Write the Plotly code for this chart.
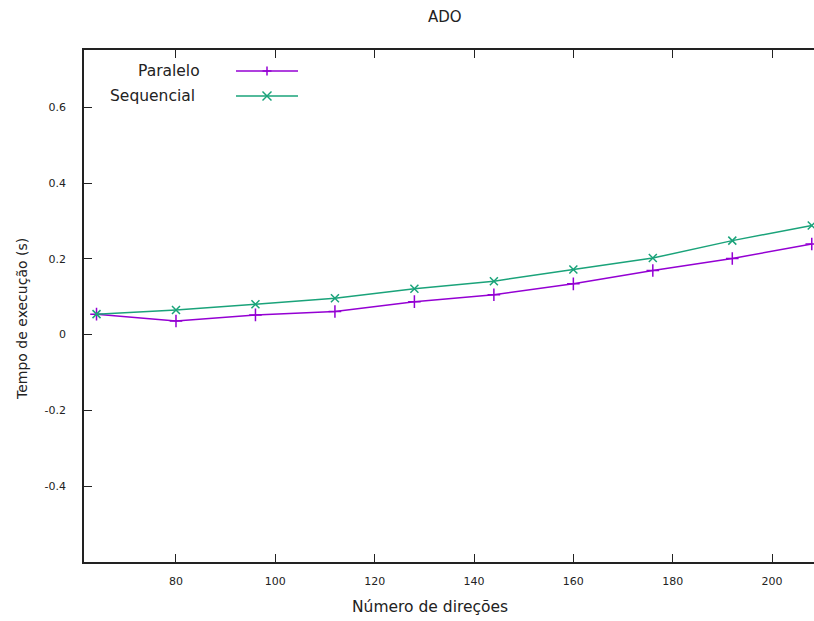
import plotly.graph_objects as go

# Number of directions and execution time (s) for each variant
direcoes = [64, 80, 96, 112, 128, 144, 160, 176, 192, 208]
tempo_paralelo = [0.054, 0.036, 0.052, 0.061, 0.087, 0.105, 0.134, 0.169, 0.201, 0.239]
tempo_sequencial = [0.054, 0.065, 0.080, 0.096, 0.121, 0.141, 0.172, 0.202, 0.248, 0.288]

x_ticks = [80, 100, 120, 140, 160, 180, 200]
y_ticks = [-0.4, -0.2, 0, 0.2, 0.4, 0.6]
y_tick_text = ["-0.4", "-0.2", "0", "0.2", "0.4", "0.6"]

PURPLE = "#9400d3"
GREEN = "#1aa37a"
INK = "#222222"
FONT = "DejaVu Sans"

W, H = 814, 621
L, R, T, B = 84, 0, 50, 59
PW, PH = W - L - R, H - T - B


def px(x):
    return (x - L) / PW


def py(y):
    return (H - B - y) / PH


fig = go.Figure()
fig.add_trace(go.Scatter(
    x=direcoes, y=tempo_paralelo, mode="lines+markers", name="Paralelo",
    line=dict(color=PURPLE, width=1.5),
    marker=dict(symbol="cross-thin", size=9, line=dict(color=PURPLE, width=1.5)),
    cliponaxis=False,
))
fig.add_trace(go.Scatter(
    x=direcoes, y=tempo_sequencial, mode="lines+markers", name="Sequencial",
    line=dict(color=GREEN, width=1.5),
    marker=dict(symbol="x-thin", size=8, line=dict(color=GREEN, width=1.5)),
    cliponaxis=False,
))

# Key drawn in the gnuplot style: right-aligned label, then line sample with point
shapes = []
annotations = []
key = [("Paralelo", 202, 71, PURPLE, "plus"), ("Sequencial", 197, 96, GREEN, "cross")]
for label, tx, ty, col, kind in key:
    annotations.append(dict(
        text=label, x=px(tx), y=py(ty), xref="paper", yref="paper",
        xanchor="right", yanchor="middle", showarrow=False,
        font=dict(family=FONT, size=15.5, color=INK),
    ))
    shapes.append(dict(type="line", xref="paper", yref="paper",
                       x0=px(236), x1=px(298), y0=py(ty), y1=py(ty),
                       line=dict(color=col, width=1.5)))
    cx, cy, s = 267, ty, 4.5
    if kind == "plus":
        segs = [((cx, cy - s), (cx, cy + s)), ((cx - s, cy), (cx + s, cy))]
    else:
        segs = [((cx - s, cy - s), (cx + s, cy + s)), ((cx - s, cy + s), (cx + s, cy - s))]
    for (x0, y0), (x1, y1) in segs:
        shapes.append(dict(type="line", xref="paper", yref="paper",
                           x0=px(x0), x1=px(x1), y0=py(y0), y1=py(y1),
                           line=dict(color=col, width=1.5)))

annotations.append(dict(
    text="Número de direções", x=px(430), y=py(607), xref="paper", yref="paper",
    xanchor="center", yanchor="middle", showarrow=False,
    font=dict(family=FONT, size=15.5, color=INK),
))
annotations.append(dict(
    text="Tempo de execução (s)", x=px(22), y=py(319), xref="paper", yref="paper",
    xanchor="center", yanchor="middle", showarrow=False, textangle=-90,
    font=dict(family=FONT, size=14, color=INK),
))
annotations.append(dict(
    text="ADO", x=px(445), y=py(17), xref="paper", yref="paper",
    xanchor="center", yanchor="middle", showarrow=False,
    font=dict(family=FONT, size=15, color=INK),
))

fig.update_layout(
    width=W, height=H,
    margin=dict(l=L, r=R, t=T, b=B),
    paper_bgcolor="white", plot_bgcolor="white",
    showlegend=False,
    shapes=shapes,
    annotations=annotations,
    font=dict(family=FONT, color=INK),
    xaxis=dict(
        range=[61.48, 208.45], tickvals=x_ticks, ticks="inside", ticklen=8,
        tickwidth=1.2, tickcolor=INK, showline=True, linecolor=INK, linewidth=1.5,
        mirror="ticks", showgrid=False, zeroline=False,
        tickfont=dict(family=FONT, size=11, color=INK), ticklabelstandoff=8,
    ),
    yaxis=dict(
        range=[-0.6, 0.751], tickvals=y_ticks, ticktext=y_tick_text,
        ticks="inside", ticklen=8, tickwidth=1.2, tickcolor=INK,
        showline=True, linecolor=INK, linewidth=1.5, mirror=False,
        showgrid=False, zeroline=False,
        tickfont=dict(family=FONT, size=11, color=INK), ticklabelstandoff=14,
    ),
)

fig.write_html("out.html")
